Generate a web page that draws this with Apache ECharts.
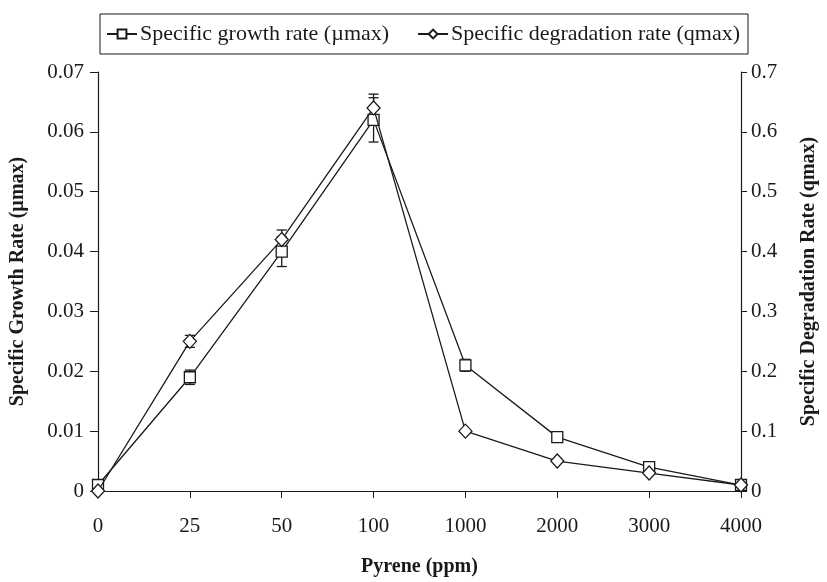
<!DOCTYPE html>
<html>
<head>
<meta charset="utf-8">
<script src="https://cdn.jsdelivr.net/npm/echarts@6/dist/echarts.min.js"></script>
<style>
  html, body { margin: 0; padding: 0; background: #fff; }
  #chart { width: 827px; height: 582px; }
</style>
</head>
<body>
<div id="chart"></div>
<script>
// Pyrene concentration categories (ppm)
const pyreneLevels = ['0', '25', '50', '100', '1000', '2000', '3000', '4000'];

// Specific growth rate (µmax), left axis
const growthRate = [0.001, 0.019, 0.040, 0.062, 0.021, 0.009, 0.004, 0.001];
const growthErr = [0, 0.0012, 0.0025, 0.0037, 0.001, 0, 0, 0];

// Specific degradation rate (qmax), right axis
const degradationRate = [0.0, 0.25, 0.42, 0.64, 0.10, 0.05, 0.03, 0.01];
const degradationErr = [0, 0.01, 0.016, 0.023, 0, 0, 0, 0];

const growthName = 'Specific growth rate (\u00b5max)';
const degradationName = 'Specific degradation rate (qmax)';

const FONT = '"Liberation Serif", "Times New Roman", serif';
const INK = '#1a1a1a';

function errorData(values, errs) {
  return values.map((v, i) => [i, v, errs[i]]).filter(d => d[2] > 0);
}

// Vertical error bar with short caps at both ends
function errorBarRender(params, api) {
  const x = api.value(0);
  const v = api.value(1);
  const e = api.value(2);
  const hi = api.coord([x, v + e]);
  const lo = api.coord([x, v - e]);
  const half = 5;
  const style = { stroke: INK, lineWidth: 1.3 };
  return {
    type: 'group',
    children: [
      { type: 'line', shape: { x1: hi[0], y1: hi[1], x2: lo[0], y2: lo[1] }, style },
      { type: 'line', shape: { x1: hi[0] - half, y1: hi[1], x2: hi[0] + half, y2: hi[1] }, style },
      { type: 'line', shape: { x1: lo[0] - half, y1: lo[1], x2: lo[0] + half, y2: lo[1] }, style }
    ]
  };
}

const axisTitleStyle = { fontFamily: FONT, fontSize: 20, fontWeight: 'bold', color: INK };
const tickLabelStyle = { fontFamily: FONT, fontSize: 21, color: INK };

const chart = echarts.init(document.getElementById('chart'), null, { renderer: 'canvas' });

chart.setOption({
  animation: false,
  backgroundColor: '#fff',
  grid: { left: 98, right: 76, top: 72, bottom: 85, containLabel: false },
  legend: {
    data: [growthName, degradationName],
    left: 100,
    top: 14,
    borderColor: INK,
    borderWidth: 1,
    padding: [9, 8, 9, 6],
    itemGap: 28,
    itemWidth: 30,
    itemHeight: 11,
    textStyle: { fontFamily: FONT, fontSize: 22, color: INK, padding: [0, 0, 0, -2] }
  },
  xAxis: {
    type: 'category',
    data: pyreneLevels,
    boundaryGap: false,
    name: 'Pyrene (ppm)',
    nameLocation: 'middle',
    nameGap: 66,
    nameTextStyle: axisTitleStyle,
    axisLine: { lineStyle: { color: INK, width: 1.2 } },
    axisTick: { alignWithLabel: true, length: 7, lineStyle: { color: INK } },
    axisLabel: Object.assign({ margin: 25 }, tickLabelStyle),
    splitLine: { show: false }
  },
  yAxis: [
    {
      type: 'value',
      min: 0,
      max: 0.07,
      interval: 0.01,
      position: 'left',
      name: 'Specific Growth Rate (\u00b5max)',
      nameLocation: 'middle',
      nameRotate: 90,
      nameGap: 70,
      nameTextStyle: axisTitleStyle,
      axisLine: { show: true, lineStyle: { color: INK, width: 1.2 } },
      axisTick: { show: true, length: 8, lineStyle: { color: INK } },
      axisLabel: Object.assign({
        margin: 14,
        formatter: v => (v === 0 ? '0' : v.toFixed(2))
      }, tickLabelStyle),
      splitLine: { show: false }
    },
    {
      type: 'value',
      min: 0,
      max: 0.7,
      interval: 0.1,
      position: 'right',
      name: 'Specific Degradation Rate (qmax)',
      nameLocation: 'middle',
      nameRotate: 90,
      nameGap: 58,
      nameTextStyle: axisTitleStyle,
      axisLine: { show: true, lineStyle: { color: INK, width: 1.2 } },
      axisTick: { show: true, length: 6, lineStyle: { color: INK } },
      axisLabel: Object.assign({
        margin: 10,
        formatter: v => (v === 0 ? '0' : v.toFixed(1))
      }, tickLabelStyle),
      splitLine: { show: false }
    }
  ],
  series: [
    {
      type: 'custom',
      name: 'growth-err',
      yAxisIndex: 0,
      renderItem: errorBarRender,
      data: errorData(growthRate, growthErr),
      z: 1,
      silent: true
    },
    {
      type: 'custom',
      name: 'degradation-err',
      yAxisIndex: 1,
      renderItem: errorBarRender,
      data: errorData(degradationRate, degradationErr),
      z: 1,
      silent: true
    },
    {
      name: growthName,
      type: 'line',
      yAxisIndex: 0,
      data: growthRate,
      symbol: 'rect',
      symbolSize: 11,
      showAllSymbol: true,
      lineStyle: { color: INK, width: 1.3 },
      itemStyle: { color: '#fff', borderColor: INK, borderWidth: 1.3 },
      z: 3
    },
    {
      name: degradationName,
      type: 'line',
      yAxisIndex: 1,
      data: degradationRate,
      symbol: 'diamond',
      symbolSize: [13, 14],
      showAllSymbol: true,
      lineStyle: { color: INK, width: 1.3 },
      itemStyle: { color: '#fff', borderColor: INK, borderWidth: 1.3 },
      z: 4
    }
  ]
});
</script>
</body>
</html>
